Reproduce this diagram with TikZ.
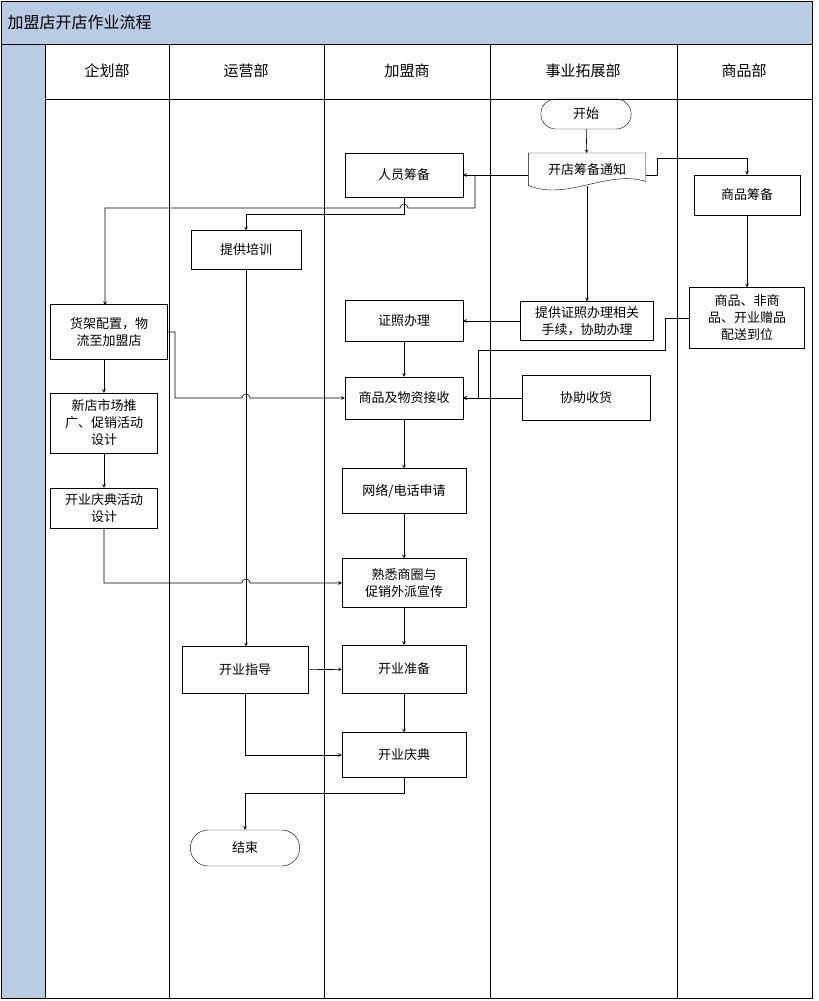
\documentclass[tikz,border=0pt]{standalone}
\usepackage{fontspec}
\setmainfont{Noto Sans CJK SC}
\usetikzlibrary{arrows, arrows.meta, positioning, calc, shapes.misc}
\definecolor{lanebar}{RGB}{184, 204, 228}

\begin{document}
\begin{tikzpicture}[x=1pt, y=-1pt,
    box/.style={draw, minimum width=118pt, minimum height=44pt, align=center, font=\fontsize{13}{17}\selectfont, inner sep=2pt},
    term/.style={draw, rounded rectangle, minimum width=100pt, minimum height=32pt, font=\fontsize{13}{17}\selectfont},
    arrow/.style={->, >=stealth, semithick},
    lane/.style={font=\fontsize{15}{18}\selectfont}
]
    \useasboundingbox (0,0) rectangle (819,1001);
    % frame and lanes
    \fill[lanebar] (1,1) rectangle (812,44);
    \fill[lanebar] (1,44) rectangle (45,998);
    \draw[thick] (1,1) rectangle (812,998);
    \draw (1,44) -- (812,44);
    \draw (45,99) -- (812,99);
    \foreach \x in {45,169,324,490,677} {
        \draw (\x,44) -- (\x,998);
    }
    \node[anchor=west, font=\fontsize{16}{18}\selectfont] (title) at (4,22) {加盟店开店作业流程};
    \node[lane] (h1) at (107,71) {企划部};
    \node[lane] (h2) at (246,71) {运营部};
    \node[lane] (h3) at (407,71) {加盟商};
    \node[lane] (h4) at (583,71) {事业拓展部};
    \node[lane] (h5) at (744,71) {商品部};

    % nodes
    \node[term, minimum width=97pt, minimum height=30pt] (start) at (586,114) {开始};
    \node[box, draw=none, minimum width=117pt, minimum height=32pt, anchor=north] (notice) at (587,153) {开店筹备通知};
    \draw (notice.north west) -- (notice.north east) -- ($(notice.south east)+(0,-4)$)
        .. controls ($(notice.south)+(20,-16)$) and ($(notice.south)+(-20,16)$) .. (notice.south west) -- cycle;
    \node[box] (staff) at (404,175) {人员筹备};
    \node[box, minimum width=106pt, minimum height=40pt] (goods) at (747,195) {商品筹备};
    \node[box, minimum width=110pt, minimum height=39pt] (train) at (246,250) {提供培训};
    \node[box, minimum width=117pt, minimum height=55pt] (shelf) at (109,332) {货架配置，物\\流至加盟店};
    \node[box, minimum height=41pt] (license) at (404,321) {证照办理};
    \node[box, minimum width=133pt, minimum height=39pt] (docs) at (587,321) {提供证照办理相关\\手续，协助办理};
    \node[box, minimum width=115pt, minimum height=61pt] (deliver) at (747,318) {商品、非商\\品、开业赠品\\配送到位};
    \node[box, minimum height=42pt] (receive) at (404,398) {商品及物资接收};
    \node[box, minimum width=128pt, minimum height=45pt] (assist) at (586,398) {协助收货};
    \node[box, minimum width=107pt, minimum height=60pt] (promo) at (104,423) {新店市场推\\广、促销活动\\设计};
    \node[box, minimum width=124pt, minimum height=45pt] (phone) at (404,491) {网络/电话申请};
    \node[box, minimum width=107pt, minimum height=40pt] (event) at (104,508) {开业庆典活动\\设计};
    \node[box, minimum width=124pt, minimum height=49pt] (area) at (404,583) {熟悉商圈与\\促销外派宣传};
    \node[box, minimum width=126pt, minimum height=47pt] (guide) at (245,670) {开业指导};
    \node[box, minimum width=124pt, minimum height=48pt] (prepare) at (404,669) {开业准备};
    \node[box, minimum width=124pt, minimum height=45pt] (opening) at (404,755) {开业庆典};
    \node[term, minimum width=116pt, minimum height=36pt] (finish) at (245,848) {结束};
    \coordinate (split) at (475,175);

    % connectors
    \draw[arrow] (start) -- (notice);
    \draw[arrow] (notice.west |- staff) -- (staff);
    \draw[arrow] (notice.east |- staff) -| (657,158) -| (goods);
    \draw[arrow] ($(notice.south)+(0,1)$) -- (docs);
    \draw[arrow] (split) -- (475,208) -- (408,208) arc[start angle=0, end angle=180, radius=4pt] -- (105,208) -- (105,305);
    \draw[arrow] (staff) -- (404,214) -| (train);
    \draw[arrow] (goods) -- (deliver);
    \draw[arrow] (docs) -- (license);
    \draw[arrow] (deliver.west) -- (665,318) |- (478,350) |- (receive.east);
    \draw[arrow] (assist) -- (receive);
    \draw[arrow] (license) -- (receive);
    \draw[arrow] (shelf.east) -- (175,332) |- (242,398) arc[start angle=180, end angle=0, radius=4pt] -- (receive.west);
    \draw[arrow] (104,360) -- (promo);
    \draw[arrow] (promo) -- (event);
    \draw[arrow] (receive) -- (phone);
    \draw[arrow] (phone) -- (area);
    \draw[arrow] (area) -- (prepare);
    \draw[arrow] (prepare) -- (opening);
    \draw[arrow] (event) |- (242,583) arc[start angle=180, end angle=0, radius=4pt] -- (area.west);
    \draw[arrow] (train.south) -- (train.south |- guide.north);
    \draw[arrow] (guide) -- (prepare);
    \draw[arrow] (guide) |- (opening);
    \draw[arrow] (opening) -- (404,793) -| (finish);
\end{tikzpicture}
\end{document}
